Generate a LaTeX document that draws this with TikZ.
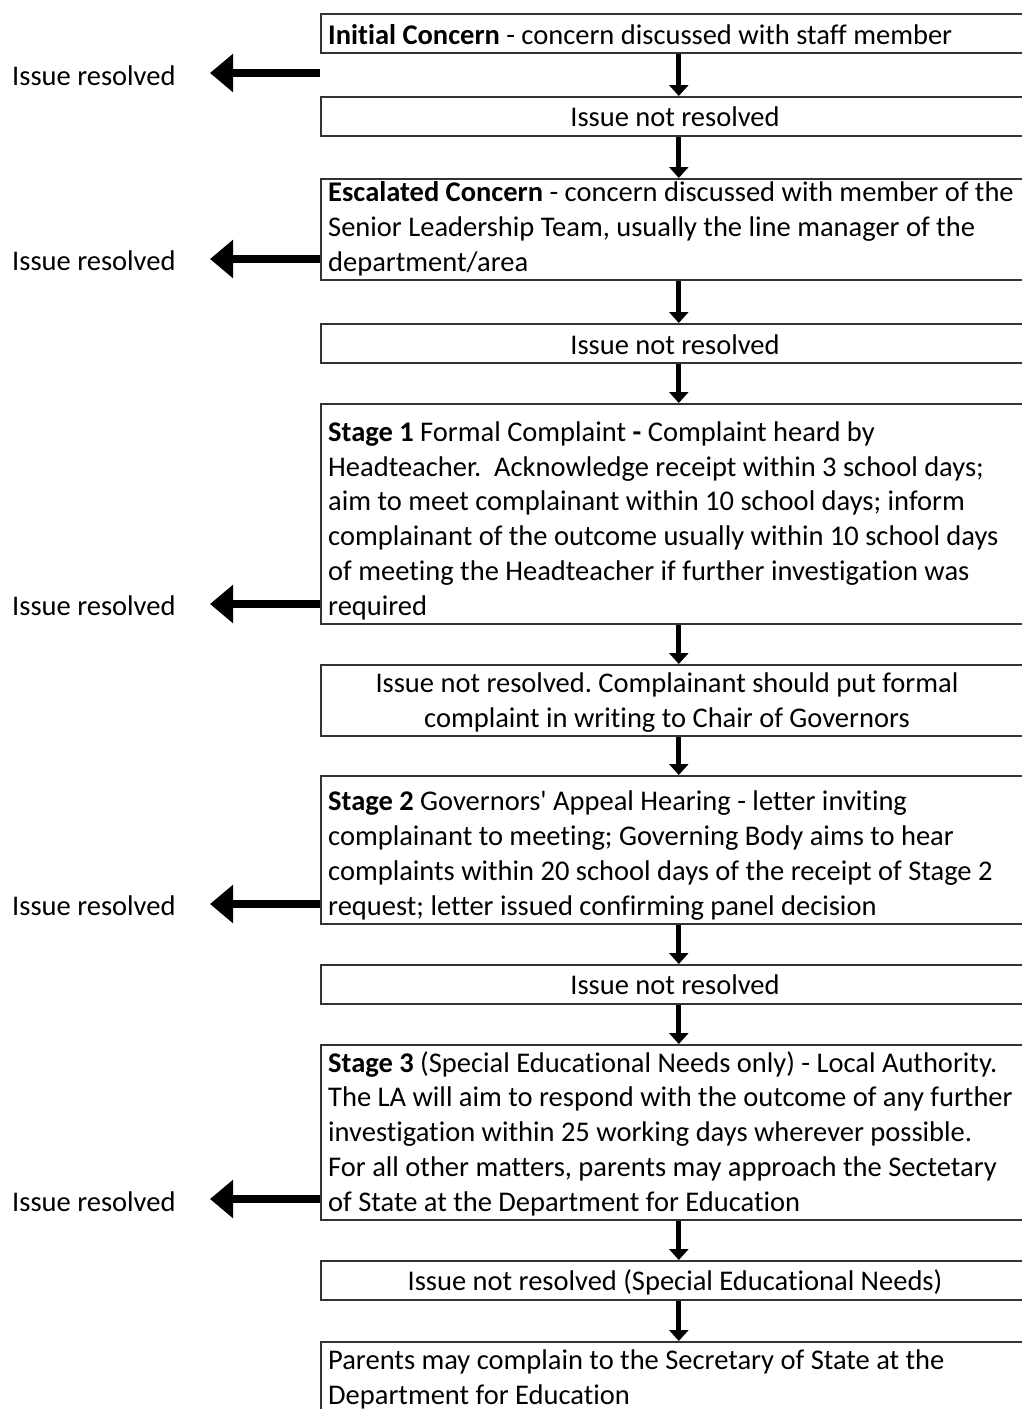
\documentclass[tikz,border=0pt]{standalone}
\usepackage{fontspec}
\setmainfont{Carlito}[Ligatures={NoCommon}]
\usetikzlibrary{arrows.meta,calc}
\frenchspacing
\begin{document}
\begin{tikzpicture}[x=1pt,y=-1pt,
  flowbox/.style={draw=black!80, line width=1.6pt, rectangle, inner sep=0pt,
     minimum width=710pt, anchor=north west},
  boxtext/.style={anchor=base west, inner sep=0pt, align=left,
     font=\fontsize{28.5}{34.7}\selectfont\frenchspacing},
  ctext/.style={anchor=base, inner sep=0pt, align=center,
     font=\fontsize{28.5}{34.7}\selectfont\frenchspacing},
  reslabel/.style={anchor=base west, inner sep=0pt,
     font=\fontsize{28.5}{34.7}\selectfont},
  downarr/.style={line width=5pt, -{Triangle[length=11pt,width=19pt]}},
  leftarr/.style={line width=8pt, -{Triangle[length=23pt,width=37pt]}},
]
\useasboundingbox (0,0) rectangle (1022,1409);
\clip (0,0) rectangle (1022,1409);
\fill[white] (0,0) rectangle (1022,1409);

% boxes
\node[flowbox, minimum height=39pt]  (b1)  at (320,13)   {};
\node[flowbox, minimum height=39pt]  (b2)  at (320,96)   {};
\node[flowbox, minimum height=101pt] (b3)  at (320,178)  {};
\node[flowbox, minimum height=39pt]  (b4)  at (320,323)  {};
\node[flowbox, minimum height=220pt] (b5)  at (320,403)  {};
\node[flowbox, minimum height=71pt]  (b6)  at (320,664)  {};
\node[flowbox, minimum height=148pt] (b7)  at (320,775)  {};
\node[flowbox, minimum height=39pt]  (b8)  at (320,964)  {};
\node[flowbox, minimum height=175pt] (b9)  at (320,1044) {};
\node[flowbox, minimum height=39pt]  (b10) at (320,1260) {};
\node[flowbox, minimum height=100pt] (b11) at (320,1341) {};

% texts (base anchor = baseline of the last line)
\node[boxtext] (t1) at (328,44) {\textbf{Initial Concern} - concern discussed with staff member};
\node[ctext] (t2) at (675,126) {Issue not resolved};
\node[boxtext] (t3) at (328,271) {\textbf{Escalated Concern} - concern discussed with member of the\\
Senior Leadership Team, usually the line manager of the\\
department/area};
\node[ctext] (t4) at (675,354) {Issue not resolved};
\node[boxtext] (t5) at (328,615) {\textbf{Stage 1} Formal Complaint \textbf{-} Complaint heard by\\
Headteacher.\ \ Acknowledge receipt within 3 school days;\\
aim to meet complainant within 10 school days; inform\\
complainant of the outcome usually within 10 school days\\
of meeting the Headteacher if further investigation was\\
required};
\node[ctext] (t6) at (667,727) {Issue not resolved. Complainant should put formal\\
complaint in writing to Chair of Governors};
\node[boxtext] (t7) at (328,915) {\textbf{Stage 2} Governors\textquotesingle\ Appeal Hearing - letter inviting\\
complainant to meeting; Governing Body aims to hear\\
complaints within 20 school days of the receipt of Stage 2\\
request; letter issued confirming panel decision};
\node[ctext] (t8) at (675,994) {Issue not resolved};
\node[boxtext] (t9) at (328,1211) {\textbf{Stage 3} (Special Educational Needs only) - Local Authority.\\
The LA will aim to respond with the outcome of any further\\
investigation within 25 working days wherever possible.\\
For all other matters, parents may approach the Sectetary\\
of State at the Department for Education};
\node[ctext] (t10) at (675,1290) {Issue not resolved (Special Educational Needs)};
\node[boxtext] (t11) at (328,1404) {Parents may complain to the Secretary of State at the\\
Department for Education};

% resolved labels
\node[reslabel] (r1) at (12,85)   {Issue resolved};
\node[reslabel] (r2) at (12,270)  {Issue resolved};
\node[reslabel] (r3) at (12,615)  {Issue resolved};
\node[reslabel] (r4) at (12,915)  {Issue resolved};
\node[reslabel] (r5) at (12,1211) {Issue resolved};

\coordinate (a1) at (210,73);
\coordinate (a2) at (210,259);
\coordinate (a3) at (210,604);
\coordinate (a4) at (210,904);
\coordinate (a5) at (210,1199);
\coordinate (c1) at (320,73);

% down arrows
\foreach \a/\b in {b1/b2,b2/b3,b3/b4,b4/b5,b5/b6,b6/b7,b7/b8,b8/b9,b9/b10,b10/b11}{
  \draw[downarr] ([xshift=3pt]\a.south) -- ([xshift=3pt]\b.north);
}

% left arrows
\draw[leftarr] (c1) -- (a1);
\draw[leftarr] (b3.west |- a2) -- (a2);
\draw[leftarr] (b5.west |- a3) -- (a3);
\draw[leftarr] (b7.west |- a4) -- (a4);
\draw[leftarr] (b9.west |- a5) -- (a5);
\end{tikzpicture}
\end{document}
